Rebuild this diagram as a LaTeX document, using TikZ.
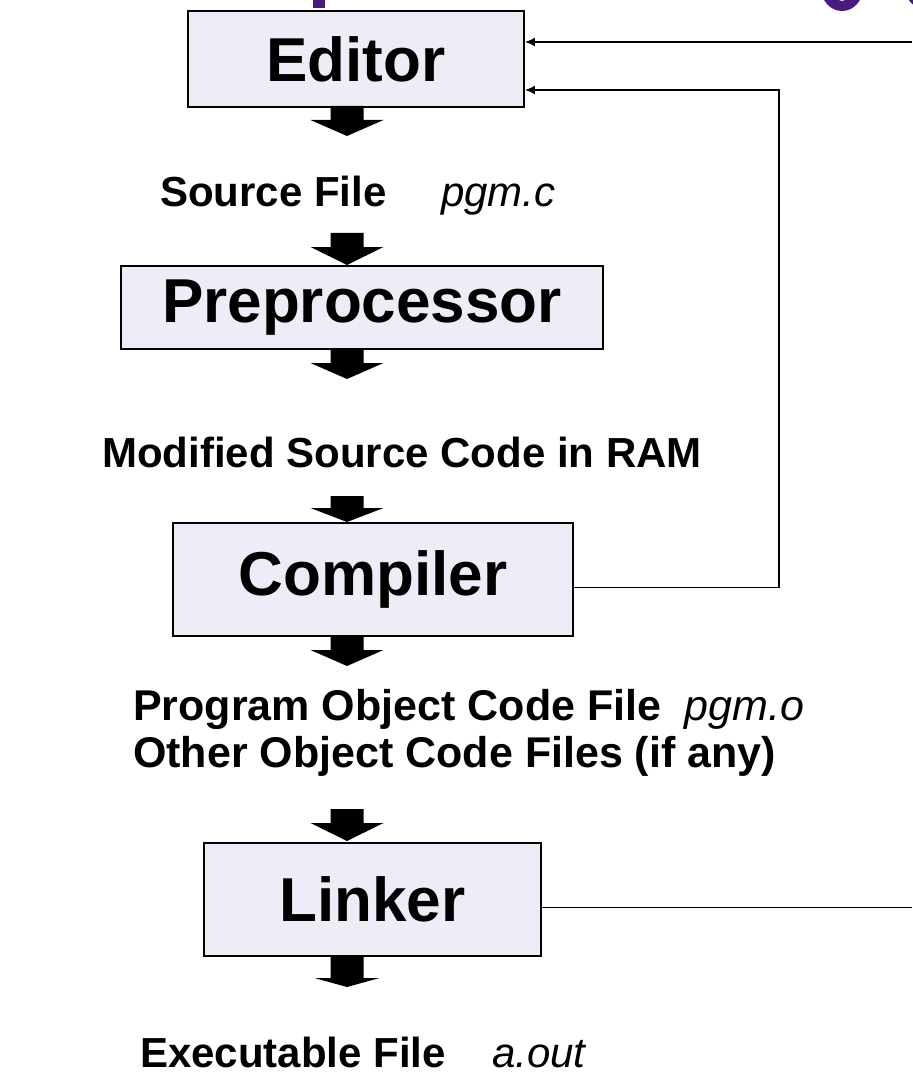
\documentclass[tikz,border=0pt]{standalone}
\usepackage{fontspec}
\setmainfont{Liberation Sans}
\usetikzlibrary{calc,arrows.meta}
\definecolor{boxfill}{HTML}{EDEDF7}
\definecolor{titlepurple}{HTML}{4A1A7E}

% thick block arrow: #1 centre x, #2 top y, #3 neck y, #4 tip y, #5 half head width
\newcommand\blockarrow[5]{%
  \fill (#1-16.5,#2) -- (#1+16.5,#2) -- (#1+16.5,#3) -- (#1+#5,#3)
        -- (#1,#4) -- (#1-#5,#3) -- (#1-16.5,#3) -- cycle;}

\begin{document}
\begin{tikzpicture}[x=1pt,y=-1pt,
  stagebox/.style={draw=black,line width=1.9pt,fill=boxfill,inner sep=0pt,
    anchor=north west,font=\fontsize{62}{70}\selectfont\bfseries},
  filelabel/.style={anchor=base west,inner sep=0pt,
    font=\fontsize{42}{50}\selectfont\bfseries},
  objlabel/.style={filelabel,font=\fontsize{43}{50}\selectfont\bfseries},
  feedback/.style={line width=1.8pt,-{Latex[length=10pt,width=9pt]}},
  plainline/.style={line width=1.8pt}]

\useasboundingbox[fill=white] (0,0) rectangle (912,1075);

% fragments of the heading above the page edge
\fill[titlepurple] (313,-2) rectangle (325,8);
\fill[titlepurple,even odd rule] (842,-12) ellipse [x radius=21pt,y radius=23pt]
                                 (842,-12) ellipse [x radius=9pt,y radius=13pt];
\fill[titlepurple,even odd rule] (928,-12) ellipse [x radius=23pt,y radius=22pt]
                                 (928,-12) ellipse [x radius=10pt,y radius=12pt];
\fill[white] (0,-40) rectangle (912,0);

% stages
\node[stagebox,minimum width=336pt,minimum height=96pt] (ed) at (187,10) {Editor};
\node[stagebox,minimum width=482pt,minimum height=83pt] (pp) at (120,265) {Preprocessor};
\node[stagebox,minimum width=400pt,minimum height=113pt] (cp) at (172,522) {Compiler};
\node[stagebox,minimum width=337pt,minimum height=113pt] (lk) at (203,842) {Linker};

% intermediate files
\node[filelabel] (src) at (160,207) {Source File\hspace{1.3em}{\mdseries\itshape pgm.c}};
\node[filelabel] (mod) at (102,467) {Modified Source Code in RAM};
\node[objlabel] (obj) at (133,720) {Program Object Code File\hspace{0.55em}{\mdseries\itshape pgm.o}};
\node[objlabel] (oth) at (133,767) {Other Object Code Files (if any)};
\node[filelabel] (exe) at (140,1067) {Executable File\hspace{1.1em}{\mdseries\itshape a.out}};

% flow arrows
\blockarrow{347}{106}{120}{136}{36.5}
\blockarrow{347}{233}{247}{265}{36.5}
\blockarrow{347}{349}{363}{379}{36.5}
\blockarrow{347}{496}{508}{522}{36.5}
\blockarrow{347}{636}{650}{666}{36.5}
\blockarrow{347}{809}{823}{841}{36.5}
\blockarrow{347}{955}{978}{987}{32.5}

% feedback paths back to the editor
\coordinate (topin) at (912,42);
\coordinate (cpout) at ($(cp.east)+(0,8)$);
\coordinate (bendlow) at (779,0 |- cpout);
\coordinate (bendhigh) at (779,90);
\coordinate (lkout) at ($(lk.east)+(0,8)$);
\coordinate (lkend) at (912,0 |- lkout);

\draw[feedback] (topin) -- (ed.east |- topin);
\draw[feedback] (cpout) -- (bendlow) -- (bendhigh) -- (ed.east |- bendhigh);
\draw[plainline] (lkout) -- (lkend);
\end{tikzpicture}
\end{document}
